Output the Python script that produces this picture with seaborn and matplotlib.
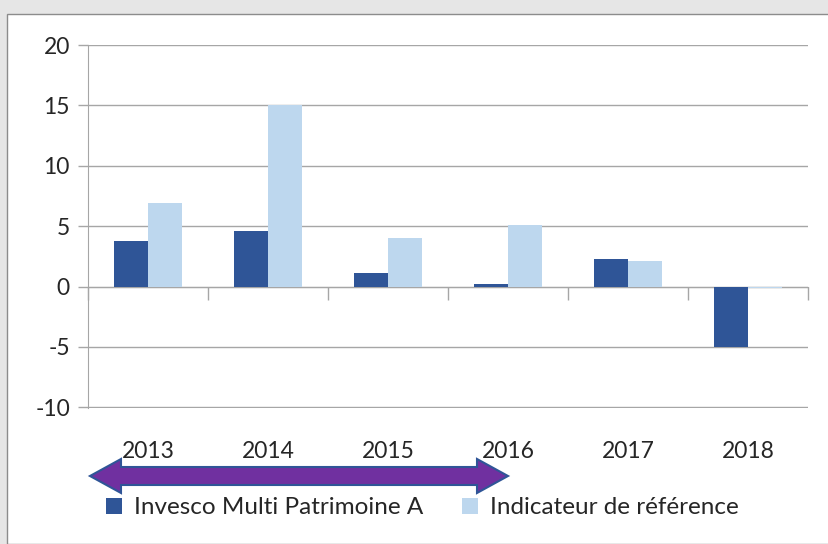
import numpy as np
import pandas as pd
import matplotlib.pyplot as plt
import matplotlib.patches as mpatches
import seaborn as sns

years = ['2013', '2014', '2015', '2016', '2017', '2018']
fund = [3.8, 4.6, 1.1, 0.2, 2.3, -5.0]
benchmark = [6.9, 15.0, 4.0, 5.1, 2.1, -0.1]
series_names = ['Invesco Multi Patrimoine A', 'Indicateur de référence']
colors = ['#2f5597', '#bdd7ee']
yticks = [-10, -5, 0, 5, 10, 15, 20]

df = pd.DataFrame({
    'year': years * 2,
    'value': fund + benchmark,
    'series': [series_names[0]] * len(years) + [series_names[1]] * len(years),
})

sns.set_style('white')
plt.rcParams['font.family'] = ['Lato', 'DejaVu Sans']
txt = '#262626'
grid_c = '#a6a6a6'

fig = plt.figure(figsize=(8.29, 5.44), dpi=100)
fig.patch.set_facecolor('#e6e6e6')
# white chart panel with thin border
fig.patches.append(mpatches.Rectangle((7 / 829, 0), 1.0, 1 - 14 / 544, transform=fig.transFigure,
                                      facecolor='white', edgecolor='#8c8c8c', linewidth=1.0, zorder=-5))

ax = fig.add_axes([88 / 829, 1 - 408 / 544, 720 / 829, 363 / 544])
ax.set_facecolor('none')
sns.barplot(data=df, x='year', y='value', hue='series', palette=colors, saturation=1, width=0.57, gap=0,
            linewidth=0, ax=ax, legend=False, zorder=3)

ax.set_ylim(-10.05, 20)
ax.set_xlim(-0.5, 5.5)
ax.set_yticks(yticks)
ax.set_yticklabels([str(v) for v in yticks], fontsize=16.5, color=txt)
ax.tick_params(axis='y', length=7, color=grid_c, width=1, pad=6, left=True)
ax.tick_params(axis='x', length=0, pad=24, labelsize=16.5, labelcolor=txt)
ax.set_xlabel('')
ax.set_ylabel('')
ax.yaxis.grid(True, color=grid_c, linewidth=1.0, zorder=1)
ax.set_axisbelow(True)
for s in ['top', 'right', 'bottom']:
    ax.spines[s].set_visible(False)
ax.spines['left'].set_color(grid_c)

# category axis at zero with boundary tick marks
sec = ax.secondary_xaxis(10.05 / 30.05)
sec.set_xticks(np.arange(-0.5, 6, 1.0))
sec.set_xticklabels([])
sec.tick_params(length=9, color=grid_c, width=1, direction='out')
sec.spines['bottom'].set_color(grid_c)

# purple double arrow
W, H = 829, 544
pts = [(90, 476), (121, 459), (121, 467), (477, 467), (477, 459), (508, 476),
       (477, 493), (477, 485), (121, 485), (121, 493)]
pts = [(x / W, 1 - y / H) for x, y in pts]
fig.patches.append(mpatches.Polygon(pts, closed=True, transform=fig.transFigure,
                                    facecolor='#7030a0', edgecolor='#2f5597', linewidth=1.5, zorder=5))

handles = [mpatches.Patch(facecolor=c, edgecolor='none', label=n) for c, n in zip(colors, series_names)]
fig.legend(handles=handles, loc='center left', bbox_to_anchor=(84 / 829, 1 - 508 / 544), ncol=2,
           frameon=False, fontsize=17.5, handlelength=0.65, handleheight=0.65, handletextpad=0.5,
           columnspacing=1.6, labelcolor=txt)

fig.savefig('out.png', dpi=100, facecolor=fig.get_facecolor())
